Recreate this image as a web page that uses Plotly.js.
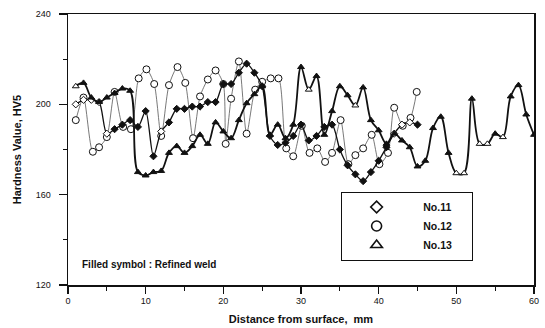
<!DOCTYPE html>
<html>
<head>
<meta charset="utf-8">
<script src="https://cdn.plot.ly/plotly-3.0.1.min.js"></script>
<style>html,body{margin:0;padding:0;background:#fff;}#chart{width:545px;height:328px;}</style>
</head>
<body>
<div id="chart"></div>
<script>
// ---- data ----
const seriesNames = ['No.11', 'No.12', 'No.13'];

const x11 = [1,2,3,4,5,6,7,8,9,10,11,12,13,14,15,16,17,18,19,20,21,22,23,24,25,26,27,28,29,30,31,32,33,34,35,36,37,38,39,40,41,42,43,44,45];
const y11 = [200,202,202,201,187,189,191,193,190,197,177,188,192,198,198,199,199,201,201,209,209,214,218,214,208,186,182,183,186,191,184,186,190,191,180,173,169,166,170,175,181,187,191,192,191];
const refined11 = [0,0,0,0,0,1,1,1,1,1,1,0,1,1,1,1,1,1,1,1,1,1,1,1,1,1,1,1,1,1,1,1,1,1,1,1,1,1,1,1,1,0,0,0,1];

const x12 = [1,2,3.2,4,5,6,7.1,8.1,9.1,10.1,11.1,12,13,14.1,15.1,16.1,17,18,19,20,20.3,21,22,23,24.1,25,26.1,27.1,28.1,29,30.1,31.1,32.1,33.1,34,35.1,36.1,37,38,39.1,40.1,41.2,42,43.1,44.1,44.9];
const y12 = [193,203,179,181,185.5,205.5,190,189,211.5,215.5,209,186,208.5,216.5,209.5,185,203.5,211,215,209,182.5,202.5,219,187,206.5,210,211.5,211.5,180.5,177,190.5,178.5,180.5,174.5,178.5,193,173.5,177.5,180.5,186.5,173.5,178.5,198.5,190.5,194,205.5];
const refined12 = [0,0,0,0,0,0,0,0,0,0,0,0,0,0,0,0,0,0,0,0,0,0,0,0,0,0,0,0,0,0,0,0,0,0,0,0,0,0,0,0,0,0,0,0,0,0];

const x13 = [1,2,3,4,5,6,7,8,9,10,11,12,13,14,15,16,17,18,19,20,21,22,23,24,25,26,27,28,29,30,31,32,33,34,35,36,37,38,39,40,41,42,43,44,45,46,47,48,49,50,51,52,53,54,55,56,57,58,59,60];
const y13 = [208,209.5,203,201,203,205,207,206,170,168.5,170,170.5,178.5,181.5,178.5,181.5,186.5,182.5,192,188,185,193,200.5,204.5,208,186.5,191,185,191,216.5,206.5,212.5,186.5,197,208,204,199.5,207.5,193,188.5,182.5,187,184,181,172.5,175,189.5,194.5,178.5,169.5,169.5,202.5,182.5,182.5,187,185.5,203.5,208.5,195.5,186.5];
const refined13 = [0,1,1,1,1,1,1,1,1,1,1,1,1,1,1,1,1,1,1,1,1,1,1,1,1,1,1,1,1,1,0,1,1,1,1,1,0,1,1,1,1,1,1,1,1,1,1,1,1,0,0,1,0,0,1,0,1,1,1,1];

const xTickVals = [0,10,20,30,40,50,60];
const yTickVals = [120,160,200,240];

// ---- drawing ----
const FONT = 'Liberation Sans, Arial, sans-serif';
const ink = '#111';
function fills(flags){ return flags.map(f => f ? ink : '#ffffff'); }
const pad = '\u00a0\u00a0\u00a0\u00a0';
const tail = '\u00a0\u00a0\u00a0\u00a0\u00a0';

const traces = [
  {x:x12, y:y12, mode:'lines+markers', showlegend:false,
   line:{shape:'spline', smoothing:0.7, color:'#555', width:0.8},
   marker:{symbol:'circle', size:7, color:fills(refined12), line:{color:ink, width:1}}},
  {x:x11, y:y11, mode:'lines+markers', showlegend:false,
   line:{shape:'spline', smoothing:0.8, color:ink, width:1.3},
   marker:{symbol:'diamond', size:5.5, color:fills(refined11), line:{color:ink, width:1}}},
  {x:x13, y:y13, mode:'lines+markers', showlegend:false,
   line:{shape:'spline', smoothing:1, color:ink, width:1.8},
   marker:{symbol:'triangle-up', size:6, color:fills(refined13), line:{color:ink, width:1}}},
  // legend entries (open symbols)
  {x:[null], y:[null], mode:'markers', name:pad + '<b>' + seriesNames[0] + '</b>' + tail,
   marker:{symbol:'diamond-open', size:9, color:ink, line:{width:1.6}}},
  {x:[null], y:[null], mode:'markers', name:pad + '<b>' + seriesNames[1] + '</b>' + tail,
   marker:{symbol:'circle-open', size:10, color:ink, line:{width:1.6}}},
  {x:[null], y:[null], mode:'markers', name:pad + '<b>' + seriesNames[2] + '</b>' + tail,
   marker:{symbol:'triangle-up-open', size:10, color:ink, line:{width:1.6}}}
];

const layout = {
  width:545, height:328,
  margin:{l:68, r:11, t:14, b:43},
  paper_bgcolor:'#fff', plot_bgcolor:'#fff',
  font:{family:FONT, color:ink, size:9},
  showlegend:true,
  legend:{x:0.585, y:0.345, xanchor:'left', yanchor:'top', bgcolor:'#fff',
          bordercolor:ink, borderwidth:1, font:{family:FONT, size:10.5, color:ink},
          itemwidth:60, tracegroupgap:0},
  xaxis:{range:[0,60], tickvals:xTickVals, ticks:'outside', ticklen:7, tickwidth:1.2, tickcolor:ink,
         minor:{dtick:5, ticks:'outside', ticklen:4, tickwidth:1, tickcolor:ink},
         showline:true, linecolor:ink, linewidth:1.5, mirror:true, showgrid:false, zeroline:false,
         tickfont:{family:FONT, size:9, color:ink},
         title:{text:'<b>Distance from surface,  mm</b>', font:{family:FONT, size:11, color:ink}, standoff:10}},
  yaxis:{range:[120,240], tickvals:yTickVals, ticks:'outside', ticklen:8, tickwidth:1.2, tickcolor:ink,
         minor:{dtick:20, ticks:'outside', ticklen:4, tickwidth:1, tickcolor:ink},
         showline:true, linecolor:ink, linewidth:1.5, mirror:true, showgrid:false, zeroline:false,
         tickfont:{family:FONT, size:9, color:ink}, ticklabelstandoff:6,
         title:{text:'<b>Hardness Value, HV5</b>', font:{family:FONT, size:11, color:ink}, standoff:12}},
  annotations:[{xref:'paper', yref:'paper', x:0.025, y:0.075, xanchor:'left', yanchor:'middle',
                text:'<b>Filled symbol : Refined weld</b>', showarrow:false,
                font:{family:FONT, size:10, color:ink}}]
};

Plotly.newPlot('chart', traces, layout, {displayModeBar:false, staticPlot:true});
</script>
</body>
</html>
